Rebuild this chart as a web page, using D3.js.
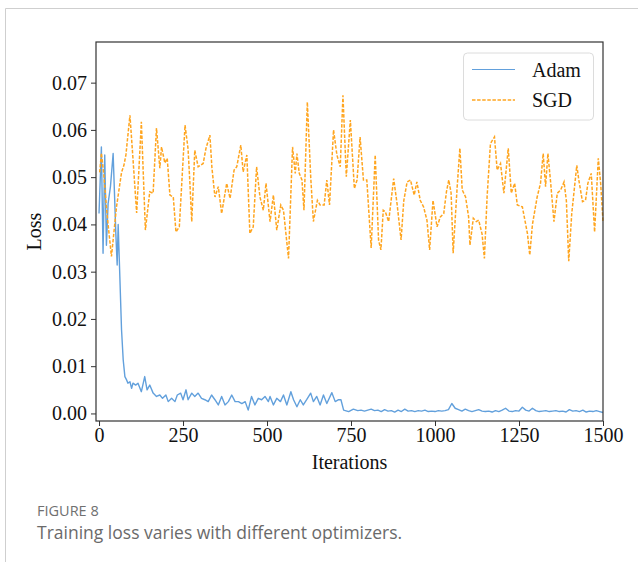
<!DOCTYPE html>
<html>
<head>
<meta charset="utf-8">
<script src="https://cdn.jsdelivr.net/npm/d3@7"></script>
<style>
  body { margin: 0; background: #fff; }
  svg { display: block; }
</style>
</head>
<body>
<svg id="chart" width="638" height="562"></svg>
<script>
// Adam series (iteration, loss)
const adamIter = [0, 7, 12, 17, 22, 27, 34, 42, 50, 54, 57, 67, 72, 77, 82, 86, 92, 97, 101, 109,
  116, 126, 136, 143, 151, 161, 171, 181, 189, 199, 206, 216, 226, 233, 243, 250, 259, 265, 276, 285,
  295, 305, 315, 325, 335, 345, 355, 365, 375, 385, 395, 405, 415, 425, 435, 444, 454, 464, 474, 484,
  494, 504, 509, 519, 529, 540, 549, 559, 571, 579, 589, 599, 608, 618, 630, 638, 648, 658, 668, 678,
  693, 703, 713, 720, 728, 743, 757,
  770, 780, 790, 800, 810, 820, 830, 840, 850, 860, 870, 880, 890, 900, 910, 920, 930, 940, 950,
  960, 970, 980, 990, 1000, 1010, 1020, 1030, 1040, 1050, 1060, 1070, 1080, 1090, 1100, 1110, 1120,
  1130, 1140, 1150, 1160, 1170, 1180, 1190, 1200, 1210, 1220, 1230, 1240, 1250, 1260, 1270, 1280,
  1290, 1300, 1310, 1320, 1330, 1340, 1350, 1360, 1370, 1380, 1390, 1400, 1410, 1420, 1430, 1440,
  1450, 1460, 1470, 1480, 1490, 1500];
const adamLoss = [0.0423, 0.0564, 0.0339, 0.0547, 0.0356, 0.0444, 0.048, 0.055, 0.0381, 0.0314, 0.040, 0.0177, 0.0113, 0.0078, 0.0071, 0.0064, 0.0067, 0.0053, 0.0064, 0.006,
  0.0064, 0.0046, 0.0078, 0.005, 0.006, 0.0043, 0.0036, 0.0039, 0.0032, 0.0039, 0.0025, 0.0032, 0.0025, 0.0039, 0.0043, 0.0029, 0.005, 0.0029, 0.0043, 0.0036,
  0.0043, 0.0032, 0.0029, 0.0025, 0.0039, 0.0029, 0.0018, 0.0036, 0.0018, 0.0025, 0.0039, 0.0025, 0.0025, 0.0021, 0.0025, 0.0007, 0.0036, 0.0018, 0.0032, 0.0029,
  0.0036, 0.0025, 0.0036, 0.0018, 0.0032, 0.0025, 0.0039, 0.0018, 0.0046, 0.0029, 0.0014, 0.0029, 0.0018, 0.0029, 0.0043, 0.0025, 0.0036, 0.0018, 0.0039, 0.0021,
  0.0044, 0.0025, 0.0029, 0.0029, 0.0007, 0.0004, 0.0009,
  0.0006, 0.0007, 0.0005, 0.0007, 0.0009, 0.0006, 0.0007, 0.0004, 0.0008, 0.0005, 0.0006, 0.0003, 0.0007, 0.0004, 0.0009, 0.0005, 0.0006, 0.0004, 0.0006,
  0.0005, 0.0007, 0.0004, 0.0005, 0.0004, 0.0006, 0.0005, 0.0006, 0.0008, 0.0021, 0.0011, 0.0008, 0.0005, 0.0009, 0.0006, 0.0004, 0.0006,
  0.0008, 0.0005, 0.0004, 0.0005, 0.0003, 0.0006, 0.0004, 0.0007, 0.0011, 0.0005, 0.0004, 0.0006, 0.0005, 0.0013, 0.0007, 0.0005,
  0.0011, 0.0006, 0.0004, 0.0005, 0.0006, 0.0004, 0.0005, 0.0006, 0.0004, 0.0005, 0.0003, 0.0008, 0.0005, 0.0006, 0.0004, 0.0007,
  0.0003, 0.0005, 0.0004, 0.0006, 0.0004, 0.0002];

// SGD series (iteration, loss)
const sgdIter = [2, 7, 14, 22, 27, 37, 52, 67, 74, 80, 92, 100, 112, 126, 138, 151, 161, 171, 181, 186,
  196, 203, 211, 221, 229, 239, 256, 265, 270, 276, 285, 295, 310, 318, 330, 336, 345, 355, 365, 380,
  390, 402, 410, 422, 429, 440, 449, 459, 469, 479, 489, 497, 509, 519, 529, 541, 549, 564, 576, 584,
  589, 596, 604, 610, 620, 630, 638, 650, 658, 670, 678, 686, 698, 708, 718, 726, 736, 748, 760, 768,
  777, 787, 797, 810, 822, 832, 839, 846, 852, 862, 877, 887, 899, 907, 917, 927, 938, 946, 956, 966,
  976, 984, 994, 1006, 1016, 1026, 1034, 1041, 1048, 1054, 1066, 1074, 1081, 1091, 1100, 1104, 1114, 1123, 1130, 1140,
  1147, 1155, 1165, 1177, 1185, 1195, 1205, 1218, 1227, 1237, 1245, 1260, 1275, 1282, 1290, 1304, 1314, 1322, 1329, 1336,
  1344, 1354, 1364, 1374, 1384, 1391, 1398, 1407, 1422, 1428, 1439, 1448, 1455, 1465, 1475, 1486, 1493, 1500];
const sgdLoss = [0.051, 0.0551, 0.0508, 0.0437, 0.040, 0.0332, 0.0437, 0.051, 0.0525, 0.0547, 0.0631, 0.055, 0.0424, 0.0617, 0.0388, 0.0469, 0.0466, 0.0604, 0.0519, 0.0564,
  0.053, 0.054, 0.0462, 0.0458, 0.0384, 0.0395, 0.061, 0.056, 0.0494, 0.0406, 0.0557, 0.0522, 0.0529, 0.056, 0.0589, 0.052, 0.0458, 0.048, 0.0423, 0.0487,
  0.0455, 0.0515, 0.0522, 0.0568, 0.0511, 0.0547, 0.0381, 0.0395, 0.0522, 0.0458, 0.043, 0.0487, 0.0406, 0.0462, 0.0388, 0.0441, 0.043, 0.0328, 0.0564, 0.0508,
  0.055, 0.0508, 0.0494, 0.043, 0.0659, 0.0501, 0.0406, 0.0451, 0.0441, 0.0441, 0.0494, 0.0441, 0.06, 0.0547, 0.0522, 0.0673, 0.0501, 0.0621, 0.0476, 0.0494,
  0.0585, 0.0494, 0.0494, 0.035, 0.0547, 0.0367, 0.0346, 0.043, 0.0427, 0.0406, 0.0497, 0.0444, 0.0367, 0.045, 0.049, 0.0494, 0.0462, 0.049, 0.0451, 0.0437,
  0.0409, 0.0346, 0.0451, 0.0395, 0.0416, 0.0423, 0.0469, 0.0494, 0.0466, 0.0339, 0.048, 0.0561, 0.0473, 0.0458, 0.0416, 0.0356, 0.0413, 0.0406, 0.0409, 0.038,
  0.0328, 0.0458, 0.0571, 0.0585, 0.0515, 0.0529, 0.0466, 0.0561, 0.0466, 0.0487, 0.0441, 0.0437, 0.0381, 0.0335, 0.040, 0.0458, 0.0487, 0.055, 0.048, 0.055,
  0.049, 0.0406, 0.0466, 0.0473, 0.049, 0.045, 0.0322, 0.0423, 0.0525, 0.0494, 0.0448, 0.0451, 0.0487, 0.0508, 0.0384, 0.054, 0.0487, 0.0406];

const xTicks = [0, 250, 500, 750, 1000, 1250, 1500];
const yTicks = [0, 0.01, 0.02, 0.03, 0.04, 0.05, 0.06, 0.07];
const seriesNames = ["Adam", "SGD"];

const size = { left: 96, right: 603, top: 42, bottom: 421 };
const serif = "'Liberation Serif', 'Times New Roman', serif";
const svg = d3.select("#chart");

// outer page frame
svg.append("path")
    .attr("d", "M5.5,562 V8.5 H638")
    .attr("fill", "none")
    .attr("stroke", "#cfcfcf");

const xScale = d3.scaleLinear()
    .domain([-9, 1500])
    .range([size.left, size.right]);

const yScale = d3.scaleLinear()
    .domain([-0.0016, 0.0786])
    .range([size.bottom, size.top]);

const adamData = adamIter.map((d, i) => ({ x: d, y: adamLoss[i] }));
const sgdData = sgdIter.map((d, i) => ({ x: d, y: sgdLoss[i] }));

const line = d3.line()
    .x(d => xScale(d.x))
    .y(d => yScale(d.y));

const plot = svg.append("g");

plot.append("path")
    .datum(adamData)
    .attr("fill", "none")
    .attr("stroke", "#62a0dc")
    .attr("stroke-width", 1.4)
    .attr("stroke-linejoin", "round")
    .attr("d", line);

plot.append("path")
    .datum(sgdData)
    .attr("fill", "none")
    .attr("stroke", "#ffa51f")
    .attr("stroke-width", 1.5)
    .attr("stroke-dasharray", "3.5,1.6")
    .attr("d", line);

// axes
const xAxis = svg.append("g")
    .attr("transform", `translate(0, ${size.bottom})`)
    .call(d3.axisBottom(xScale).tickValues(xTicks).tickSize(5).tickPadding(2).tickFormat(d3.format("d")));

const yAxis = svg.append("g")
    .attr("transform", `translate(${size.left}, 0)`)
    .call(d3.axisLeft(yScale).tickValues(yTicks).tickSize(5).tickPadding(4).tickFormat(d3.format(".2f")));

[xAxis, yAxis].forEach(ax => {
    ax.select(".domain").remove();
    ax.selectAll("line").attr("stroke", "#333");
    ax.selectAll("text")
        .attr("fill", "#111")
        .style("font-family", serif)
        .style("font-size", "20px");
});

// frame
svg.append("rect")
    .attr("x", size.left)
    .attr("y", size.top)
    .attr("width", size.right - size.left)
    .attr("height", size.bottom - size.top)
    .attr("fill", "none")
    .attr("stroke", "#333")
    .attr("stroke-width", 1.2);

// labels
svg.append("text")
    .attr("x", (size.left + size.right) / 2)
    .attr("y", 469)
    .attr("text-anchor", "middle")
    .style("font-family", serif)
    .style("font-size", "20px")
    .attr("fill", "#111")
    .text("Iterations");

svg.append("text")
    .attr("transform", "rotate(-90)")
    .attr("x", -(size.top + size.bottom) / 2)
    .attr("y", 41)
    .attr("text-anchor", "middle")
    .style("font-family", serif)
    .style("font-size", "20px")
    .attr("fill", "#111")
    .text("Loss");

// legend
const legend = svg.append("g");
legend.append("rect")
    .attr("x", 463.5)
    .attr("y", 53)
    .attr("width", 130)
    .attr("height", 67)
    .attr("rx", 4)
    .attr("fill", "#fff")
    .attr("fill-opacity", 0.85)
    .attr("stroke", "#dcdcdc");

const legendStyles = [
    { color: "#62a0dc", dash: null, width: 1.2 },
    { color: "#ffa51f", dash: "3.5,1.6", width: 1.4 }
];
seriesNames.forEach((name, i) => {
    const y = 69.5 + i * 30.5;
    legend.append("line")
        .attr("x1", 472).attr("x2", 515)
        .attr("y1", y).attr("y2", y)
        .attr("stroke", legendStyles[i].color)
        .attr("stroke-width", legendStyles[i].width)
        .attr("stroke-dasharray", legendStyles[i].dash);
    legend.append("text")
        .attr("x", 532)
        .attr("y", y + 7)
        .style("font-family", serif)
        .style("font-size", "20px")
        .attr("fill", "#111")
        .text(name);
});

// caption
svg.append("text")
    .attr("x", 37)
    .attr("y", 516)
    .style("font-family", "'Open Sans', sans-serif")
    .style("font-size", "14.5px")
    .attr("fill", "#707070")
    .text("FIGURE 8");

svg.append("text")
    .attr("x", 37)
    .attr("y", 539)
    .style("font-family", "'Open Sans', sans-serif")
    .style("font-size", "17.5px")
    .attr("fill", "#6a6a6a")
    .text("Training loss varies with different optimizers.");
</script>
</body>
</html>
